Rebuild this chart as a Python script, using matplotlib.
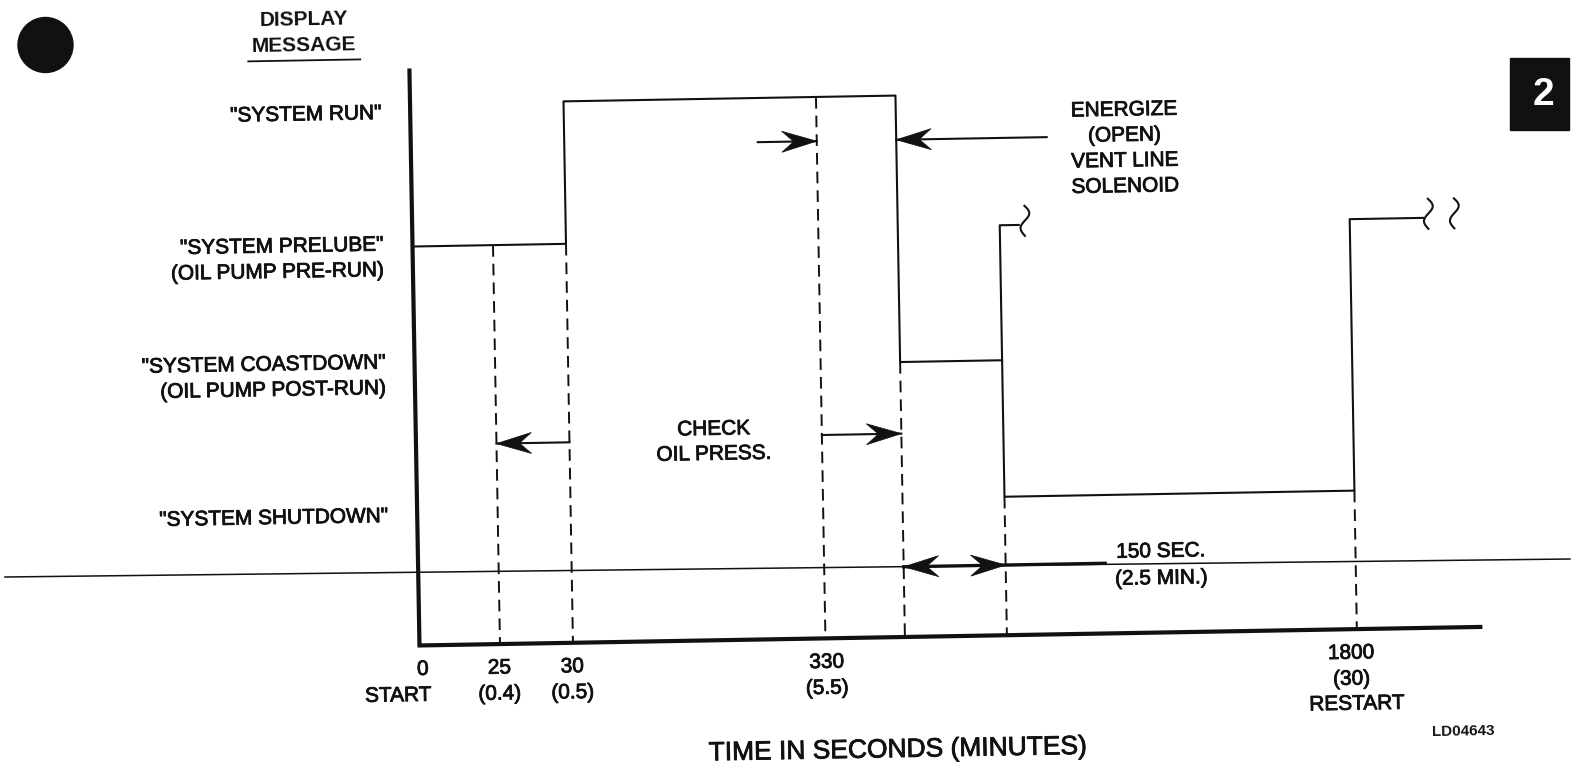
import numpy as np
import matplotlib
matplotlib.use("Agg")
import matplotlib.pyplot as plt
from matplotlib.transforms import Affine2D
from matplotlib.patches import Polygon, Circle, Rectangle
import matplotlib.patheffects as pe

plt.rcParams['font.family'] = ['Liberation Sans', 'DejaVu Sans']

# ---------------- data ----------------
state_labels = ['"SYSTEM RUN"', '"SYSTEM PRELUBE"', '"SYSTEM COASTDOWN"', '"SYSTEM SHUTDOWN"']
state_notes = ['', '(OIL PUMP PRE-RUN)', '(OIL PUMP POST-RUN)', '']
# schematic (not-to-scale) vertical level of each display message
state_level = {'run': 97.5, 'prelube': 240, 'coast': 364, 'shutdown': 500.5, 'restart': 229}
state_order = ['run', 'prelube', 'coast', 'shutdown']
label_shift = [9, -2, -8, 9]          # label placement relative to its level

# schematic (not-to-scale) time positions of the events
event_names = ['start', 't25', 't30', 't330', 'vent', 'shutdown', 'restart']
event_x = [415, 495.5, 568.5, 821, 900.5, 1002.5, 1352.5]
tick_seconds = ['0', '25', '30', '330', '', '', '1800']
tick_minutes = ['START', '(0.4)', '(0.5)', '(5.5)', '', '', '(30)']
tick_extra = ['', '', '', '', '', '', 'RESTART']
tick_shift = [3, -1, -1, 1, 0, 0, -6]  # label placement relative to the event

# the displayed message held from each event until the next one
sequence_events = ['start', 't30', 'vent', 'shutdown', 'restart']
sequence_states = ['prelube', 'run', 'coast', 'shutdown', 'restart']

ev = dict(zip(event_names, event_x))

# ---------------- figure ----------------
W, H = 1575, 771
fig = plt.figure(figsize=(W / 100, H / 100), dpi=100)
ax = fig.add_axes([0, 0, 1, 1])
ax.set_xlim(0, W)
ax.set_ylim(H, 0)
ax.axis('off')
# the scanned page is tilted by about one degree
tr = ax.transData + Affine2D().rotate_deg_around(W / 2, H / 2, 1.0)
ROT = 1.0
INK = '#111111'
FS = 15
STROKE = [pe.withStroke(linewidth=0.6, foreground=INK)]

axis_left, axis_top, axis_bottom, axis_right = 415, 64, 639, 1476
line_end = 1426

# axes (thick)
ax.plot([axis_left, axis_left, axis_right], [axis_top, axis_bottom, axis_bottom],
        color=INK, lw=3.0, solid_joinstyle='miter', transform=tr, zorder=3)

# signal trace (step)
xs = [ev[e] for e in sequence_events] + [line_end]
ys = [state_level[s] for s in sequence_states] + [state_level['restart']]
ax.plot(xs, ys, drawstyle='steps-post', color=INK, lw=1.5, transform=tr, zorder=3)

# branch at shutdown going back up to the restart level
sx = ev['shutdown']
ax.plot([sx, sx, sx + 19], [state_level['coast'], state_level['restart'], state_level['restart']],
        color=INK, lw=1.5, transform=tr, zorder=3)


def squiggle(cx, cy, h=30, a=5):
    s = np.linspace(0, 1, 60)
    ax.plot(cx + a * np.sin(2 * np.pi * s) * (1 - 0.2 * s), cy - h / 2 + h * s,
            color=INK, lw=1.5, transform=tr, zorder=3)


squiggle(sx + 25, state_level['restart'] - 4)
squiggle(line_end + 5, state_level['restart'] - 4)
squiggle(line_end + 31, state_level['restart'] - 4)


# dashed guides from the level at each event down to the axis
def level_below(x):
    lv = []
    for i, e in enumerate(sequence_events):
        if abs(ev[e] - x) < 1e-6:
            lv.append(state_level[sequence_states[i]])
            if i > 0:
                lv.append(state_level[sequence_states[i - 1]])
    if not lv:
        cur = None
        for i, e in enumerate(sequence_events):
            if ev[e] <= x:
                cur = state_level[sequence_states[i]]
        lv = [cur]
    return max(lv)


for name, x in zip(event_names, event_x):
    if name == 'start':
        continue
    ax.plot([x, x], [level_below(x), axis_bottom], color=INK, lw=1.4,
            dashes=(6.0, 3.6), transform=tr, zorder=2)


def head(tx, ty, d, L=35, hw=10.5, notch=12):
    pts = [(tx, ty), (tx - d * L, ty - hw), (tx - d * (L - notch), ty), (tx - d * L, ty + hw)]
    ax.add_patch(Polygon(pts, closed=True, facecolor=INK, edgecolor=INK, lw=0.5,
                         transform=tr, zorder=4))


def arrow(x0, x1, y, lw=1.5):
    ax.plot([x0, x1], [y, y], color=INK, lw=lw, transform=tr, zorder=3)
    head(x1, y, 1 if x1 > x0 else -1)


arrow(1051, ev['vent'], 141.7)          # energize vent line solenoid
arrow(762, ev['t330'], 141.7)
arrow(ev['t30'], ev['t25'], 438.5)      # check oil pressure
arrow(ev['t330'], ev['vent'], 435.6)
# 150 sec double arrow
ax.plot([ev['vent'], 1102], [568.8, 568.8], color=INK, lw=2.4, transform=tr, zorder=3)
head(ev['vent'], 568.8, -1)
head(ev['shutdown'], 568.8, 1)

# page fold / scan line
ax.plot([5, 1570], [577, 559], color=INK, lw=1.1, zorder=2)


def txt(x, y, s, ha='center', size=FS, weight='normal', color=INK, spacing=25.5):
    for k, line in enumerate(s.split('\n')):
        ax.text(x, y + k * spacing, line, ha=ha, va='center', fontsize=size,
                fontweight=weight, color=color, rotation=ROT, transform=tr,
                rotation_mode='anchor', zorder=5,
                path_effects=STROKE if weight == 'normal' else None)


# y labels
for key, lab, note, sh in zip(state_order, state_labels, state_notes, label_shift):
    s = lab + ('\n' + note if note else '')
    txt(387, state_level[key] + sh, s, ha='right')

# x tick labels
for name, x, s1, s2, s3, sh in zip(event_names, event_x, tick_seconds, tick_minutes,
                                   tick_extra, tick_shift):
    if s1:
        txt(x + sh, axis_bottom + 24, s1)
    if s2:
        txt(x - 22 if name == 'start' else x + sh, axis_bottom + 50, s2)
    if s3:
        txt(x + sh + 5, axis_bottom + 75, s3)

txt(891, 752, 'TIME IN SECONDS (MINUTES)', size=19)
txt(1457, 743, 'LD04643', size=11, weight='bold')
txt(1158, 558, '150 SEC.\n(2.5 MIN.)', spacing=27)
txt(713, 428, 'CHECK\nOIL PRESS.', spacing=25)
txt(1129, 116, 'ENERGIZE\n(OPEN)\nVENT LINE\nSOLENOID', spacing=25.5)

# header
txt(310, 11, 'DISPLAY\nMESSAGE', weight='bold', spacing=26)
ax.plot([254, 366], [52, 52], color=INK, lw=1.3, transform=tr)

# page decorations
ax.add_patch(Circle((45.5, 45), 27.5, color=INK, zorder=5))
ax.add_patch(Rectangle((1510, 58), 59, 72, color=INK, zorder=5))
ax.text(1543, 95, '2', ha='center', va='center', fontsize=28, fontweight='bold',
        color='white', zorder=6)

fig.savefig('out.png', dpi=100, facecolor='white')
